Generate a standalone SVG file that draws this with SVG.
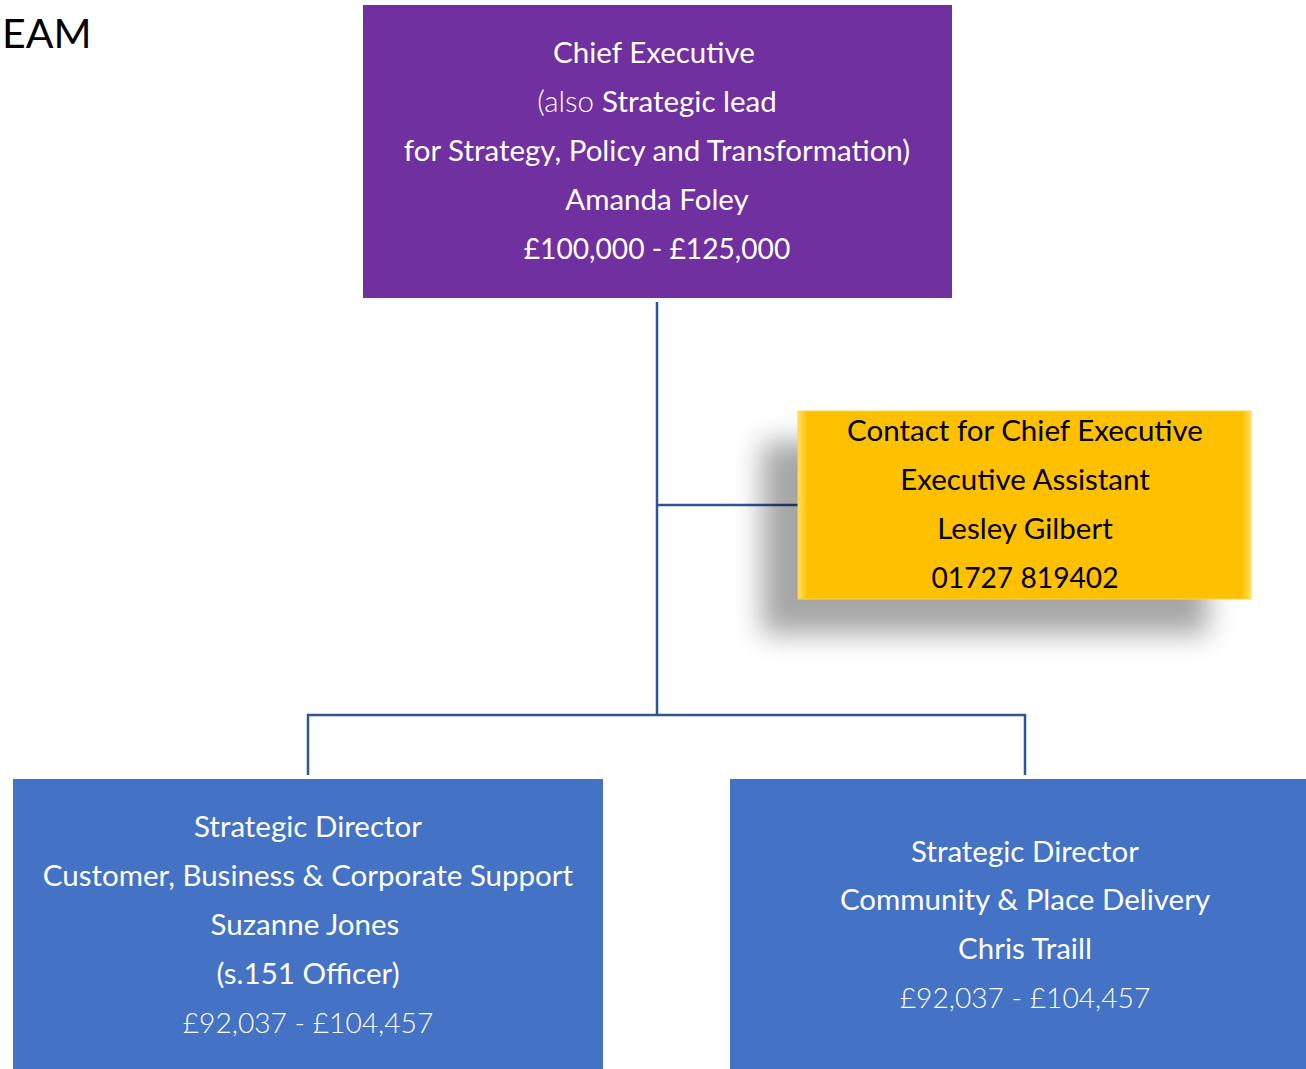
<svg xmlns="http://www.w3.org/2000/svg" width="1306" height="1069" viewBox="0 0 1306 1069">
<style>
text{font-family:"Lato","Open Sans","Liberation Sans",sans-serif;font-size:29.5px;text-anchor:middle}
.w{fill:#ffffff}
.k{fill:#000000}
.l{font-weight:300}
.n{font-size:28.2px}
.conn{fill:none;stroke:#2F5597;stroke-width:2.5}
</style>
<defs>
<filter id="sh" x="-30%" y="-40%" width="160%" height="180%">
<feGaussianBlur stdDeviation="14"/>
</filter>
<linearGradient id="bev" x1="0" y1="0" x2="1" y2="0">
<stop offset="0" stop-color="#FFE066"/>
<stop offset="0.02" stop-color="#FFC000"/>
<stop offset="0.98" stop-color="#FFC000"/>
<stop offset="1" stop-color="#FFE066"/>
</linearGradient>
</defs>
<rect width="1306" height="1069" fill="#ffffff"/>
<text x="2" y="48" style="text-anchor:start;font-size:41px" class="k">EAM</text>
<g id="connectors">
<path class="conn" d="M657,302 V715"/>
<path class="conn" d="M657,505 H798"/>
<path class="conn" d="M308,775 V715 H1025 V775"/>
</g>
<g id="chief">
<rect x="363" y="5" width="589" height="293" fill="#7030A0"/>
<text x="654" y="63" class="w">Chief Executive</text>
<text x="657" y="112" class="w"><tspan class="l">(also </tspan>Strategic lead</text>
<text x="657" y="161" class="w">for Strategy, Policy and Transformation)</text>
<text x="657" y="210" class="w">Amanda Foley</text>
<text x="657" y="259" class="w n">£100,000 - £125,000</text>
</g>
<g id="assistant">
<rect x="762" y="442" width="446" height="192" fill="#000000" opacity="0.35" filter="url(#sh)"/>
<rect x="798" y="411" width="453" height="188" fill="url(#bev)" stroke="#FFD34D" stroke-width="1"/>
<text x="1025" y="441" class="k">Contact for Chief Executive</text>
<text x="1025" y="490" class="k">Executive Assistant</text>
<text x="1025" y="539" class="k">Lesley Gilbert</text>
<text x="1025" y="588" class="k n">01727 819402</text>
</g>
<g id="director1">
<rect x="13" y="779" width="590" height="290" fill="#4472C4"/>
<text x="308" y="837" class="w">Strategic Director</text>
<text x="308" y="886" class="w">Customer, Business &amp; Corporate Support</text>
<text x="305" y="935" class="w">Suzanne Jones</text>
<text x="308" y="984" class="w">(s.151 Officer)</text>
<text x="308" y="1033" class="w l n">£92,037 - £104,457</text>
</g>
<g id="director2">
<rect x="730" y="779" width="576" height="290" fill="#4472C4"/>
<text x="1025" y="862" class="w">Strategic Director</text>
<text x="1025" y="910" class="w">Community &amp; Place Delivery</text>
<text x="1025" y="959" class="w">Chris Traill</text>
<text x="1025" y="1008" class="w l n">£92,037 - £104,457</text>
</g>
</svg>
